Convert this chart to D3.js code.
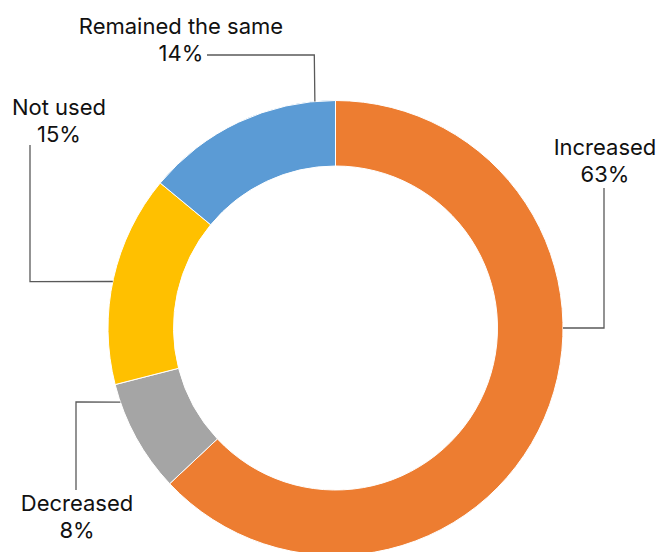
<!DOCTYPE html>
<html>
<head>
<meta charset="utf-8">
<script src="https://cdn.jsdelivr.net/npm/d3@7"></script>
<style>
  html, body { margin: 0; padding: 0; background: #fff; }
  svg { display: block; }
  text { font-family: Inter, "Open Sans", sans-serif; fill: #111; }
</style>
</head>
<body>
<svg id="chart" width="656" height="552"></svg>
<script>
// Share of respondents by change in usage
const categories = ["Increased", "Decreased", "Not used", "Remained the same"];
const shares = [63, 8, 15, 14];
const colors = ["#ED7D31", "#A5A5A5", "#FFC000", "#5B9BD5"];

// Label placement: anchor angle on the ring (degrees clockwise from top),
// elbow point of the leader line, and label centre / first baseline.
const labelLayout = [
  { anchorDeg: 90,    elbow: [604, 328], end: [604, 188], text: [605, 155] },
  { anchorDeg: 251,   elbow: [76, 402],  end: [76, 490],  text: [77, 511] },
  { anchorDeg: 281.8, elbow: [30, 281.7], end: [30, 145], text: [59, 115] },
  { anchorDeg: 354.8, elbow: [314.3, 55], end: [207, 55], text: [181, 34] }
];

const width = 656, height = 552;
const cx = 335.5, cy = 328;
const outerR = 227.5, innerR = 162;

const svg = d3.select("#chart");
const g = svg.append("g").attr("transform", `translate(${cx},${cy})`);

const data = categories.map((c, i) => ({ name: c, value: shares[i], color: colors[i] }));

const pie = d3.pie().value(d => d.value).sort(null).startAngle(0).endAngle(2 * Math.PI);
const arc = d3.arc().innerRadius(innerR).outerRadius(outerR);

g.selectAll("path.slice")
  .data(pie(data))
  .join("path")
  .attr("class", "slice")
  .attr("d", arc)
  .attr("fill", d => d.data.color)
  .attr("stroke", "#fff")
  .attr("stroke-width", 1);

// Leader lines
const line = d3.line();
data.forEach((d, i) => {
  const L = labelLayout[i];
  const a = L.anchorDeg * Math.PI / 180;
  const p0 = [cx + outerR * Math.sin(a), cy - outerR * Math.cos(a)];
  svg.append("path")
    .attr("d", line([p0, L.elbow, L.end]))
    .attr("fill", "none")
    .attr("stroke", "#595959")
    .attr("stroke-width", 1.3);
});

// Labels: category name on one line, percentage on the next
data.forEach((d, i) => {
  const L = labelLayout[i];
  svg.append("text")
    .attr("x", L.text[0])
    .attr("y", L.text[1])
    .attr("text-anchor", "middle")
    .style("font-size", "22px")
    .text(d.name);
  svg.append("text")
    .attr("x", L.text[0])
    .attr("y", L.text[1] + 27)
    .attr("text-anchor", "middle")
    .style("font-size", "22px")
    .text(d.value + "%");
});
</script>
</body>
</html>
